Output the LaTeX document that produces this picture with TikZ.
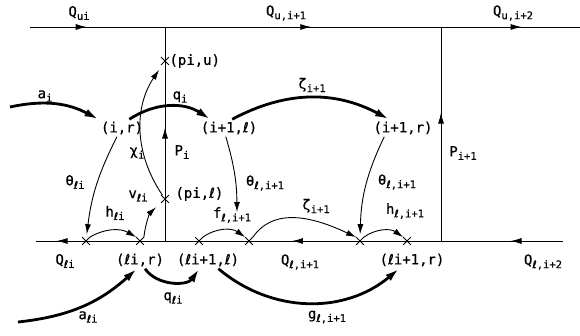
\documentclass[tikz,border=0pt]{standalone}
\usepackage{fontspec}
\setmainfont{DejaVu Sans Mono}[FakeBold=0.6]
\newfontfamily\elfont{DejaVu Sans}[FakeBold=0.6]
\usepackage{tikz}
\usetikzlibrary{shapes.misc, arrows.meta, decorations.markings}
\newcommand{\el}{{\elfont ℓ}}
\newcommand{\low}[1]{\raisebox{-0.45ex}{\fontsize{10.5}{12}\selectfont #1}}

\tikzset{
  xmark/.style={cross out, draw, minimum size=7pt, inner sep=0pt, line width=0.8pt},
  flow/.style={line width=2.8pt, -{Latex[length=14pt,width=8pt]}},
  link/.style={line width=0.9pt, -{Latex[length=10pt,width=6pt]}},
  midarrow/.style={postaction={decorate, decoration={markings,
      mark=at position #1 with {\arrow{Latex[length=11pt,width=6pt]}}}}}
}

\begin{document}
\begin{tikzpicture}[x=1pt, y=1pt, line width=0.9pt,
    every node/.style={font=\fontsize{14}{16}\selectfont, inner sep=2pt}]
    \useasboundingbox (0,0) rectangle (580,-335);

    % lines
    \coordinate (tl) at (30,-27);
    \coordinate (tr) at (580,-27);
    \coordinate (bl) at (36,-241);
    \coordinate (br) at (563,-241);
    \coordinate (j1u) at (165,-27);
    \coordinate (j1l) at (165,-241);
    \coordinate (j2u) at (441,-27);
    \coordinate (j2l) at (441,-241);
    \draw[midarrow=0.42] (tl) -- (j1u);
    \draw[midarrow=0.53] (j1u) -- (j2u);
    \draw[midarrow=0.58] (j2u) -- (tr);
    \draw[midarrow=0.84] (j1l) -- (bl);
    \draw[midarrow=0.54] (j2l) -- (j1l);
    \draw[midarrow=0.43] (br) -- (j2l);
    \draw[midarrow=0.53] (j1l) -- (j1u);
    \draw[midarrow=0.6] (j2l) -- (j2u);

    % points
    \node (pu) at (165,-61) [xmark] {};
    \node (pl) at (165,-199) [xmark] {};
    \node (c1) at (86,-241) [xmark] {};
    \node (c2) at (140,-241) [xmark] {};
    \node (c3) at (199,-241) [xmark] {};
    \node (c4) at (249,-241) [xmark] {};
    \node (c5) at (360,-241) [xmark] {};
    \node (c6) at (407,-241) [xmark] {};
    \node (pul) at (167,-61) [anchor=west] {(pi,u)};
    \node (pll) at (173,-194) [anchor=west] {(pi,\el)};

    \node (ir) at (122,-128) {(i,r)};
    \node (iil) at (229,-128) {(i+1,\el)};
    \node (iir) at (403,-128) {(i+1,r)};
    \node (lir) at (140,-260) {(\el i,r)};
    \node (lil) at (208,-260) {(\el i+1,\el)};
    \node (lrr) at (412,-260) {(\el i+1,r)};

    % thick flows
    \coordinate (ai0) at (10,-107);
    \coordinate (al0) at (18,-322);
    \draw[flow] (ai0) to[bend left=20] (ir.north west);
    \draw[flow] (ir.50) to[bend left=33] (iil.155);
    \draw[flow] (iil.70) to[bend left=28] (iir.148);
    \draw[flow] (al0) to[bend right=18] (lir.250);
    \draw[flow] (lir.-60) to[bend right=55] (lil.225);
    \draw[flow] (lil.-40) to[bend right=40] (lrr.214);

    % thin arrows
    \coordinate (thend) at (237,-212);
    \draw[link, shorten >=6pt] (pl) to[bend left=34] (pu);
    \draw[link, shorten >=3pt] (ir.240) to[bend right=10] (c1);
    \draw[link] (iil.250) to[bend left=8] (thend);
    \draw[link, shorten >=3pt] (iir.205) to[bend right=12] (c5);
    \draw[link] (c1.north east) to[bend left=30] (c2.north west);
    \draw[link, shorten >=7pt] (c2.north east) to[bend left=20] (pl);
    \draw[link] (c3.north east) to[bend left=35] (c4.north west);
    \draw[link] (c4.north east) to[out=55, in=155] (c5.north west);
    \draw[link] (c5.north east) to[bend left=35] (c6.north west);

    % labels
    \node (lQui) at (79,-13) {Q\low{ui}};
    \node (lQu1) at (286,-13) {Q\low{u,i+1}};
    \node (lQu2) at (513,-13) {Q\low{u,i+2}};
    \node (lQl) at (65,-261) {Q\low{\el i}};
    \node (lQl1) at (300,-262) {Q\low{\el,i+1}};
    \node (lQl2) at (543,-262) {Q\low{\el,i+2}};
    \node (lP) at (182,-152) {P\low{i}};
    \node (lP1) at (463,-153) {P\low{i+1}};
    \node (la) at (45,-96) {a\low{i}};
    \node (lq) at (180,-97) {q\low{i}};
    \node (lz) at (312,-85) {ζ\low{i+1}};
    \node (lx) at (137,-153) {χ\low{i}};
    \node (lth) at (75,-182) {θ\low{\el i}};
    \node (lth1) at (265,-183) {θ\low{\el,i+1}};
    \node (lth2) at (397,-182) {θ\low{\el,i+1}};
    \node (lh) at (115,-213) {h\low{\el i}};
    \node (lv) at (138,-196) {v\low{\el i}};
    \node (lf) at (232,-215) {f\low{\el,i+1}};
    \node (lz2) at (316,-206) {ζ\low{i+1}};
    \node (lh1) at (405,-211) {h\low{\el,i+1}};
    \node (lql) at (173,-298) {q\low{\el i}};
    \node (lal) at (88,-317) {a\low{\el i}};
    \node (lg) at (327,-317) {g\low{\el,i+1}};
\end{tikzpicture}
\end{document}
